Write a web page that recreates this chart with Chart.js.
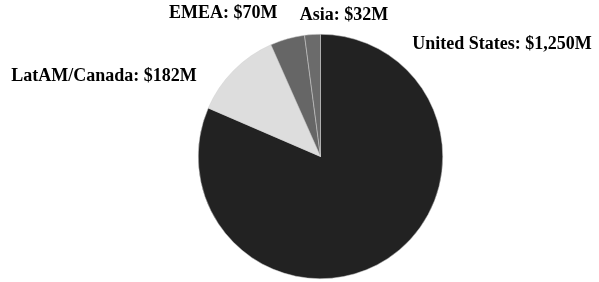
<!doctype html>
<html lang="en">
  <head>
    <meta charset="utf-8">
    <title>Revenue by Region</title>
    <script src="https://cdn.jsdelivr.net/npm/chart.js"></script>
    <style>
      html, body { margin: 0; padding: 0; background: #fff; }
      #wrap { width: 599px; height: 282px; position: relative; }
    </style>
  </head>
  <body>
  <div id="wrap">
    <canvas id="myChart"></canvas>
  </div>
  <script>
    // data
    const regions = ['United States', 'LatAM/Canada', 'EMEA', 'Asia'];
    const revenue = [1250, 182, 70, 32];
    const sliceColors = ['#222222', '#dddddd', '#666666', '#6b6b6b'];

    // label anchors, relative to pie center in units of radius (left x, baseline y)
    const labelSpots = [
      [0.75, -0.88],
      [-2.53, -0.62],
      [-1.24, -1.13],
      [-0.17, -1.12]
    ];

    function labelText(i) {
      return regions[i] + ': $' + revenue[i].toLocaleString('en-US') + 'M';
    }

    const labelPlugin = {
        id: 'outsideLabels',
        afterDraw: (chart) => {
            const arc = chart.getDatasetMeta(0).data[0];
            if (!arc) return;
            const cx = arc.x, cy = arc.y, r = arc.outerRadius;
            const ctx = chart.ctx;
            ctx.save();
            ctx.font = 'bold 18px "Liberation Serif", "Times New Roman", serif';
            ctx.fillStyle = '#000';
            ctx.textAlign = 'left';
            ctx.textBaseline = 'alphabetic';
            for (let i = 0; i < regions.length; i++) {
                const p = labelSpots[i];
                ctx.fillText(labelText(i), cx + p[0] * r, cy + p[1] * r);
            }
            ctx.restore();
        }
    };

    const ctx = document.getElementById('myChart');
    const myChart = new Chart(ctx, {
        type: 'pie',
        data: {
            labels: regions,
            datasets: [{
                data: revenue,
                backgroundColor: sliceColors,
                borderColor: '#d0d0d0',
                borderWidth: 0.5
            }]
        },
        plugins: [labelPlugin],
        options: {
            responsive: true,
            maintainAspectRatio: false,
            animation: false,
            layout: { padding: { left: 42, right: 0, top: 34, bottom: 3 } },
            plugins: {
                legend: { display: false },
                tooltip: { enabled: false }
            }
        }
    });
  </script>
  </body>
</html>
